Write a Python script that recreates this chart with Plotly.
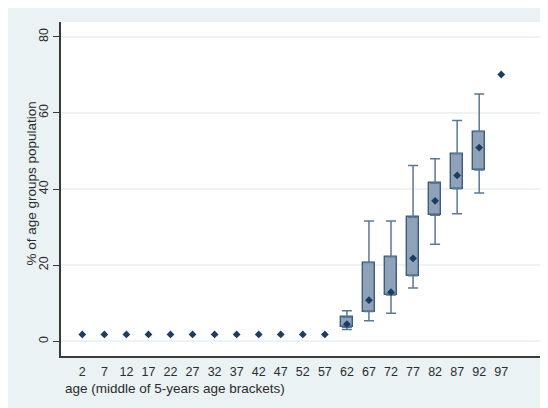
import plotly.graph_objects as go

# ---- data ----
ages = [2, 7, 12, 17, 22, 27, 32, 37, 42, 47, 52, 57, 62, 67, 72, 77, 82, 87, 92, 97]
medians = [1.8, 1.8, 1.8, 1.8, 1.8, 1.8, 1.8, 1.8, 1.8, 1.8, 1.8, 1.8,
           4.5, 10.8, 12.9, 21.8, 36.9, 43.6, 50.9, 70.1]

box_ages = [62, 67, 72, 77, 82, 87, 92]
q1 = [3.7, 7.8, 12.2, 17.2, 33.1, 40.1, 45.0]
q3 = [6.3, 20.7, 22.2, 32.6, 41.5, 49.3, 55.1]
lower = [3.1, 5.4, 7.4, 14.0, 25.5, 33.5, 39.0]
upper = [8.0, 31.6, 31.6, 46.2, 48.0, 58.0, 65.0]

y_ticks = [0, 20, 40, 60, 80]
x_title = "age (middle of 5-years age brackets)"
y_title = "% of age groups population"

# ---- styles ----
BG = "#eaf2f4"
BOX_FILL = "#8fa2b7"
BOX_LINE = "#3d5d7e"
WHISK = "#5a7896"
DOT = "#1b3d63"
FONT = "Liberation Sans, Arial, sans-serif"
TXT = "#2b2b2b"

fig = go.Figure()

fig.add_trace(go.Bar(
    x=box_ages, y=[b - a for a, b in zip(q1, q3)], base=q1, width=2.65,
    marker=dict(color=BOX_FILL, line=dict(color=BOX_LINE, width=1.4)),
    showlegend=False, hoverinfo="skip"))

fig.add_trace(go.Scatter(
    x=box_ages, y=q3, mode="markers", marker=dict(size=1, opacity=0),
    error_y=dict(type="data", symmetric=False,
                 array=[u - t for u, t in zip(upper, q3)],
                 arrayminus=[0] * len(q3),
                 color=WHISK, thickness=1.5, width=5),
    showlegend=False, hoverinfo="skip"))

fig.add_trace(go.Scatter(
    x=box_ages, y=q1, mode="markers", marker=dict(size=1, opacity=0),
    error_y=dict(type="data", symmetric=False,
                 array=[0] * len(q1),
                 arrayminus=[b - l for b, l in zip(q1, lower)],
                 color=WHISK, thickness=1.5, width=5),
    showlegend=False, hoverinfo="skip"))

fig.add_trace(go.Scatter(
    x=ages, y=medians, mode="markers",
    marker=dict(symbol="diamond", size=6, color=DOT),
    showlegend=False))

# page body has an 8px margin; figure sits at (8, 8)
W, H = 540, 400
ml, mr, mt, mb = 53, 0, 14, 52
pw, ph = W - ml - mr, H - mt - mb

def px_x(px):
    return (px - ml) / pw

def px_y(py):
    return (H - mb - py) / ph

fig.update_layout(
    width=W, height=H,
    margin=dict(l=ml, r=mr, t=mt, b=mb),
    paper_bgcolor=BG, plot_bgcolor="white",
    font=dict(family=FONT, size=12, color=TXT),
    bargap=0,
    annotations=[
        dict(text=x_title, xref="paper", yref="paper", x=px_x(55), y=px_y(380.5),
             xanchor="left", yanchor="middle", showarrow=False,
             font=dict(size=13.5, color=TXT)),
        dict(text=y_title, xref="paper", yref="paper", x=px_x(22.5), y=px_y(176),
             xanchor="center", yanchor="middle", textangle=-90, showarrow=False,
             font=dict(size=13.5, color=TXT)),
    ],
)

fig.update_xaxes(
    range=[-2.83, 107.6], tickmode="array", tickvals=ages,
    ticktext=[str(a) for a in ages],
    showgrid=False, zeroline=False,
    showline=True, linecolor="#3a3a3a", linewidth=1.5,
    ticks="outside", ticklen=3, tickcolor="rgba(0,0,0,0)",
    tickfont=dict(size=12.5, color=TXT))

fig.update_yaxes(
    range=[-3.86, 83.9], tickmode="array", tickvals=y_ticks,
    showgrid=True, gridcolor="#edf3f4", gridwidth=1.5, zeroline=False,
    showline=True, linecolor="#3a3a3a", linewidth=1.5,
    ticks="outside", ticklen=6, tickcolor="#3a3a3a", tickwidth=1,
    tickangle=-90, tickfont=dict(size=12.5, color=TXT))

fig.write_html("out.html")
